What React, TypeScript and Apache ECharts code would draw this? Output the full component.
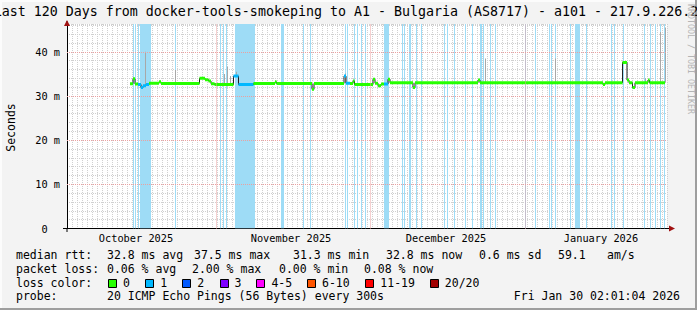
import React, { useEffect, useRef } from 'react';
import * as echarts from 'echarts';

const FONT = 'DejaVu Sans Mono';

const TITLE = 'Last 120 Days from docker-tools-smokeping to A1 - Bulgaria (AS8717) - a101 - 217.9.226.2';
const Y_NAME = 'Seconds';
const WATERMARK = 'RRDTOOL / TOBI OETIKER';

// x axis: days since window start (window = 120 days)
const X_MAX_DAYS = 120;
const monthLabels = ['October 2025', 'November 2025', 'December 2025', 'January 2026'];
const monthLabelDays = [13.8, 44.8, 75.8, 106.8];
const monthStartDays = [29.8, 60.6, 91.6];

// y axis (milliseconds)
const Y_MAX_MS = 46.3;
const yMajorTicks = [0, 10, 20, 30, 40];

// median rtt as a step series: start day, value (ms), loss colour index
const medianDays = [
  12.6, 13.2, 13.6, 14.2, 14.8, 15.2, 15.8, 16.4, 18.4, 18.8,
  26.5, 27.6, 28.3, 28.8, 29.5, 33.3, 34.3, 37.3, 41.6, 41.9,
  49.0, 49.4, 55.4, 55.8, 56.6, 57.2, 57.5, 61.2, 61.6, 62.2,
  62.8, 63.4, 64.2, 64.6, 69.2, 69.6, 82.2, 82.6, 107.2, 107.6,
  111.1, 112.0, 112.4, 113.1, 113.6, 116.2, 116.5,
];
const medianMs = [
  32.8, 33.9, 32.7, 32.6, 31.9, 32.3, 32.6, 32.9, 33.2, 32.85,
  34.0, 33.7, 33.4, 32.8, 32.6, 34.5, 32.6, 32.85, 33.2, 32.85,
  31.5, 32.85, 34.5, 32.9, 32.85, 33.4, 32.6, 33.8, 32.9, 32.3,
  32.7, 32.7, 33.8, 33.0, 31.9, 33.0, 33.6, 33.0, 32.6, 33.0,
  37.6, 33.6, 33.0, 31.9, 33.0, 33.6, 33.0,
];
const medianLoss = [
  0, 0, 0, 1, 1, 1, 1, 0, 0, 0,
  0, 0, 0, 0, 0, 1, 1, 0, 0, 0,
  0, 0, 1, 1, 0, 0, 0, 0, 0, 0,
  0, 1, 0, 0, 0, 0, 0, 0, 0, 0,
  0, 0, 0, 0, 0, 0, 0,
];
const DATA_END_DAY = 119.6;

// smoke (ping spread) spikes: day, low ms, high ms
const smokeDays = [15.6, 21.6, 31.4, 32.0, 32.6, 33.8, 55.6, 83.6, 97.6, 115.6, 118.6, 119.6];
const smokeLowMs = [32.5, 32.9, 32.6, 32.6, 32.6, 34.5, 33.0, 33.0, 33.0, 33.0, 33.0, 33.0];
const smokeHighMs = [40.0, 35.9, 35.0, 36.6, 34.5, 35.5, 35.1, 38.5, 38.5, 34.0, 44.5, 45.5];

// loss background periods (days)
const lossBgStart = [
  13.1, 13.6, 14.1, 14.6, 21.6, 30.6, 31.2, 31.7, 33.6, 42.7,
  47.1, 48.6, 55.5, 55.9, 57.3, 57.9, 58.8, 59.6, 63.3, 66.9,
  67.4, 68.3, 69.7, 70.8, 75.3, 75.9, 77.4, 79.6, 80.9, 82.5,
  83.1, 84.5, 85.6, 91.6, 93.5, 96.3, 96.7, 97.6, 100.6, 101.6,
  103.8, 108.8, 109.4, 111.1, 115.4, 116.5, 117.5, 118.6, 119.3,
];
const lossBgEnd = [
  13.3, 13.8, 14.3, 16.7, 21.8, 30.8, 31.4, 31.9, 37.6, 43.4,
  47.3, 48.8, 55.7, 56.1, 57.5, 58.1, 59.0, 59.8, 64.3, 67.1,
  67.6, 68.7, 69.9, 71.0, 75.5, 76.1, 77.6, 79.8, 81.1, 83.0,
  83.3, 84.7, 85.8, 91.8, 93.7, 96.5, 96.9, 97.8, 100.8, 102.6,
  104.0, 109.0, 109.6, 111.3, 115.6, 116.7, 117.7, 118.8, 119.5,
];

const lossColorLabels = ['0', '1', '2', '3', '4-5', '6-10', '11-19', '20/20'];
const lossColors = ['#26ff00', '#00b8ff', '#0059ff', '#7e00ff', '#ff00ff', '#ff5500', '#ff0000', '#a10000'];

const rttLabel = 'median rtt:';
const rttStats = ['32.8 ms avg', '37.5 ms max', '31.3 ms min', '32.8 ms now', '0.6 ms sd', '59.1', 'am/s'];
const lossLabel = 'packet loss:';
const lossStats = ['0.06 % avg', '2.00 % max', '0.00 % min', '0.08 % now'];
const lossColorLabel = 'loss color:';
const probeLabel = 'probe:';
const probeText = '20 ICMP Echo Pings (56 Bytes) every 300s';
const dateText = 'Fri Jan 30 02:01:04 2026';

// layout (pixels)
const W = 697;
const H = 310;
const PLOT_L = 67;
const PLOT_R = 667;
const PLOT_T = 24;
const PLOT_B = 228.5;
const rttX = [107, 194, 293, 386, 479, 558, 607];
const lossX = [107, 192, 279, 364];
const swatchX = [108, 145.3, 182.2, 219.6, 256.4, 307, 365.3, 429.8];
const rowY = [254.5, 268.5, 282.5, 296];

function txt(text: string, x: number, y: number, extra: any = {}) {
  return {
    type: 'text',
    x,
    y,
    silent: true,
    style: {
      text,
      fill: '#000',
      font: `11.5px "${FONT}"`,
      verticalAlign: 'middle',
      align: 'left',
      ...extra,
    },
  };
}

export default function App() {
  const ref = useRef<HTMLDivElement>(null);

  useEffect(() => {
    if (!ref.current) return;
    const chart = echarts.init(ref.current, null, { renderer: 'svg', width: W, height: H });

    const segData = medianDays.map((d, i) => [
      d,
      i + 1 < medianDays.length ? medianDays[i + 1] : DATA_END_DAY,
      medianMs[i],
      medianLoss[i],
    ]);
    const lineData = medianDays.map((d, i) => [d, medianMs[i]]);
    lineData.push([DATA_END_DAY, medianMs[medianMs.length - 1]]);
    const smokeData = smokeDays.map((d, i) => [d, smokeLowMs[i], smokeHighMs[i]]);
    const bgData = lossBgStart.map((s, i) => [s, lossBgEnd[i]]);

    const graphics: any[] = [];
    // frame
    graphics.push({ type: 'rect', silent: true, z: -10, shape: { x: 0, y: 0, width: W, height: H }, style: { fill: '#f3f3f3' } });
    graphics.push({ type: 'rect', silent: true, z: -9, shape: { x: 0, y: 0, width: W, height: 2 }, style: { fill: '#fcfcfc' } });
    graphics.push({ type: 'rect', silent: true, z: -9, shape: { x: 0, y: 0, width: 2, height: H }, style: { fill: '#fcfcfc' } });
    graphics.push({ type: 'rect', silent: true, z: -9, shape: { x: W - 2, y: 0, width: 2, height: H }, style: { fill: '#9e9e9e' } });
    graphics.push({ type: 'rect', silent: true, z: -9, shape: { x: 0, y: H - 2, width: W, height: 2 }, style: { fill: '#9e9e9e' } });
    // plot canvas
    graphics.push({ type: 'rect', silent: true, z: -8, shape: { x: PLOT_L, y: PLOT_T, width: PLOT_R - PLOT_L, height: PLOT_B - PLOT_T }, style: { fill: '#ffffff' } });

    // title
    graphics.push(txt(TITLE, -6.3, 11, { font: `13.3px "${FONT}"` }));
    // watermark
    graphics.push({
      type: 'text', x: 691, y: 4, rotation: -Math.PI / 2, silent: true,
      style: { text: WATERMARK, fill: '#b4b4b4', font: `8.3px "${FONT}"`, align: 'left', verticalAlign: 'middle' },
    });
    // y name
    graphics.push({
      type: 'text', x: 10.5, y: 127.5, rotation: Math.PI / 2, silent: true,
      style: { text: Y_NAME, fill: '#000', font: `11.5px "${FONT}"`, align: 'center', verticalAlign: 'middle' },
    });

    // axis extensions and arrows
    graphics.push({ type: 'line', silent: true, z: 20, shape: { x1: 63, y1: PLOT_B, x2: PLOT_L, y2: PLOT_B }, style: { stroke: '#000', lineWidth: 1 } });
    graphics.push({ type: 'line', silent: true, z: 20, shape: { x1: PLOT_R, y1: PLOT_B, x2: 670, y2: PLOT_B }, style: { stroke: '#000', lineWidth: 1 } });
    graphics.push({ type: 'line', silent: true, z: 20, shape: { x1: PLOT_L, y1: PLOT_B, x2: PLOT_L, y2: 232 }, style: { stroke: '#000', lineWidth: 1 } });
    graphics.push({ type: 'line', silent: true, z: 20, shape: { x1: PLOT_L, y1: 21, x2: PLOT_L, y2: PLOT_T }, style: { stroke: '#000', lineWidth: 1 } });
    graphics.push({ type: 'polygon', silent: true, z: 21, shape: { points: [[64, 26], [70, 26], [67, 20]] }, style: { fill: '#a01010' } });
    graphics.push({ type: 'polygon', silent: true, z: 21, shape: { points: [[669, 225.5], [669, 231.5], [675, 228.5]] }, style: { fill: '#a01010' } });

    // legend rows
    graphics.push(txt(rttLabel, 16, rowY[0]));
    rttStats.forEach((s, i) => graphics.push(txt(s, rttX[i], rowY[0])));
    graphics.push(txt(lossLabel, 16, rowY[1]));
    lossStats.forEach((s, i) => graphics.push(txt(s, lossX[i], rowY[1])));
    graphics.push(txt(lossColorLabel, 16, rowY[2]));
    lossColorLabels.forEach((s, i) => {
      graphics.push({
        type: 'rect', silent: true,
        shape: { x: Math.round(swatchX[i]) + 0.5, y: Math.round(rowY[2] - 4) + 0.5, width: 8, height: 8 },
        style: { fill: lossColors[i], stroke: '#000', lineWidth: 1 },
      });
      graphics.push(txt(s, swatchX[i] + 15, rowY[2]));
    });
    graphics.push(txt(probeLabel, 16, rowY[3]));
    graphics.push(txt(probeText, 107, rowY[3]));
    graphics.push(txt(dateText, 680, rowY[3], { align: 'right' }));

    const option: any = {
      animation: false,
      backgroundColor: '#f3f3f3',
      grid: {
        left: PLOT_L,
        right: W - PLOT_R,
        top: PLOT_T,
        bottom: H - PLOT_B,
        containLabel: false,
        outerBoundsMode: 'none',
      },
      xAxis: {
        type: 'value',
        min: 0,
        max: X_MAX_DAYS,
        interval: 1,
        axisLine: { show: true, lineStyle: { color: '#000', width: 1 } },
        axisTick: { show: false },
        splitLine: { show: true, lineStyle: { color: '#d0d0d0', width: 1, type: [1, 1] } },
        axisLabel: {
          customValues: monthLabelDays,
          formatter: (v: number) => {
            const i = monthLabelDays.findIndex((d) => Math.abs(d - v) < 1e-6);
            return i >= 0 ? monthLabels[i] : '';
          },
          fontFamily: FONT,
          fontSize: 10.3,
          color: '#000',
          margin: 4,
        },
      },
      yAxis: {
        type: 'value',
        min: 0,
        max: Y_MAX_MS,
        interval: 2,
        axisLine: { show: true, lineStyle: { color: '#000', width: 1 } },
        axisTick: { show: false },
        splitLine: { show: true, lineStyle: { color: '#d0d0d0', width: 1, type: [1, 1] } },
        axisLabel: {
          customValues: yMajorTicks,
          formatter: (v: number) => (v === 0 ? '0\u00a0\u00a0' : `${v} m`),
          fontFamily: FONT,
          fontSize: 10.3,
          color: '#000',
          margin: 7,
        },
      },
      series: [
        {
          name: 'loss background',
          type: 'custom',
          z: 1,
          silent: true,
          clip: true,
          data: bgData,
          encode: { x: [0, 1] },
          renderItem: (params: any, api: any) => {
            const cs = params.coordSys;
            const s = Math.round(api.coord([api.value(0), 0])[0]);
            const e = Math.round(api.coord([api.value(1), 0])[0]);
            return {
              type: 'rect',
              shape: { x: s, y: cs.y, width: Math.max(1, e - s), height: cs.height },
              style: { fill: '#9edcf6' },
            };
          },
          markLine: {
            silent: true,
            symbol: 'none',
            label: { show: false },
            lineStyle: { color: '#eaa0a0', width: 1, type: [1, 1] },
            data: [
              ...monthStartDays.map((d) => ({ xAxis: d })),
              ...yMajorTicks.filter((v) => v > 0).map((v) => ({ yAxis: v })),
            ],
          },
        },
        {
          name: 'smoke',
          type: 'custom',
          z: 2,
          silent: true,
          clip: true,
          data: smokeData,
          encode: { x: 0, y: [1, 2] },
          renderItem: (params: any, api: any) => {
            const lo = api.coord([api.value(0), api.value(1)]);
            const hi = api.coord([api.value(0), api.value(2)]);
            return {
              type: 'rect',
              shape: { x: Math.round(lo[0]), y: hi[1], width: 1, height: lo[1] - hi[1] },
              style: { fill: '#a8a8a8' },
            };
          },
        },
        {
          name: 'median',
          type: 'line',
          z: 3,
          step: 'end',
          symbol: 'none',
          silent: true,
          data: lineData,
          lineStyle: { color: '#202020', width: 1 },
        },
        {
          name: 'median loss colour',
          type: 'custom',
          z: 4,
          silent: true,
          clip: true,
          data: segData,
          encode: { x: [0, 1], y: 2 },
          renderItem: (params: any, api: any) => {
            const s = api.coord([api.value(0), api.value(2)]);
            const e = api.coord([api.value(1), api.value(2)]);
            return {
              type: 'rect',
              shape: { x: s[0], y: s[1] - 1.5, width: e[0] - s[0], height: 3 },
              style: { fill: lossColors[api.value(3) as number] },
            };
          },
        },
      ],
      graphic: { elements: graphics },
    };

    chart.setOption(option);
    return () => chart.dispose();
  }, []);

  return (
    <div
      ref={ref}
      style={{ position: 'fixed', left: 0, top: 0, width: W, height: H }}
    />
  );
}
